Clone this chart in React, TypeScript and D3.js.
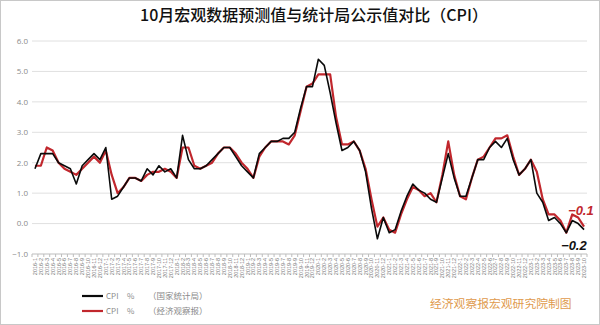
import React from "react";
import * as d3 from "d3";

const W = 600;
const H = 325;

const startMonth = new Date(2016, 0, 1);
const endMonth = new Date(2023, 10, 1);
const months: string[] = d3
  .timeMonth.range(startMonth, endMonth)
  .map((d) => `${d.getFullYear()}-${d.getMonth() + 1}`);

// 国家统计局 CPI 当月同比 (%)
const cpiNBS: number[] = [
  1.8, 2.3, 2.3, 2.3, 2.0, 1.9, 1.8, 1.3, 1.9, 2.1, 2.3, 2.1,
  2.5, 0.8, 0.9, 1.2, 1.5, 1.5, 1.4, 1.8, 1.6, 1.9, 1.7, 1.8,
  1.5, 2.9, 2.1, 1.8, 1.8, 1.9, 2.1, 2.3, 2.5, 2.5, 2.2, 1.9,
  1.7, 1.5, 2.3, 2.5, 2.7, 2.7, 2.8, 2.8, 3.0, 3.8, 4.5, 4.5,
  5.4, 5.2, 4.3, 3.3, 2.4, 2.5, 2.7, 2.4, 1.7, 0.5, -0.5, 0.2,
  -0.3, -0.2, 0.4, 0.9, 1.3, 1.1, 1.0, 0.8, 0.7, 1.5, 2.3, 1.5,
  0.9, 0.9, 1.5, 2.1, 2.1, 2.5, 2.7, 2.5, 2.8, 2.1, 1.6, 1.8,
  2.1, 1.0, 0.7, 0.1, 0.2, 0.0, -0.3, 0.1, 0.0, -0.2,
];

// 经济观察报 预测值 (%)
const cpiEEO: number[] = [
  1.9, 1.9, 2.5, 2.4, 2.0, 1.8, 1.7, 1.6, 1.8, 2.0, 2.2, 2.0,
  2.4, 1.6, 1.0, 1.2, 1.5, 1.5, 1.4, 1.6, 1.7, 1.7, 1.8, 1.7,
  1.5, 2.5, 2.5, 1.9, 1.8, 1.9, 2.0, 2.3, 2.5, 2.5, 2.3, 2.0,
  1.8, 1.5, 2.2, 2.5, 2.7, 2.7, 2.7, 2.6, 2.9, 3.7, 4.5, 4.6,
  4.9, 4.9, 4.9, 3.5, 2.6, 2.6, 2.7, 2.4, 1.8, 0.8, -0.1, 0.2,
  -0.2, -0.3, 0.3, 0.8, 1.2, 1.1, 0.9, 1.0, 0.7, 1.6, 2.7, 1.6,
  0.9, 0.8, 1.5, 2.1, 2.2, 2.5, 2.8, 2.8, 2.9, 2.2, 1.6, 1.8,
  2.1, 1.7, 0.8, 0.3, 0.3, 0.1, -0.3, 0.3, 0.2, -0.1,
];

const yTicks: number[] = [-1, 0, 1, 2, 3, 4, 5, 6];

const title = "10月宏观数据预测值与统计局公示值对比（CPI）";
const legendNames: string[] = ["（国家统计局）", "（经济观察报）"];
const credit = "经济观察报宏观研究院制图";

const RED = "#c1272d";
const BLACK = "#0a0a0a";
const CJK = "'Noto Sans CJK SC', 'Noto Sans', sans-serif";

export default function App() {
  const x = d3.scaleBand<string>().domain(months).range([32, 587]).padding(0);
  const bw = x.bandwidth();
  const cx = (i: number) => (x(months[i]) as number) + bw / 2;
  const y = d3.scaleLinear().domain([-1, 6]).range([254, 41]);

  const line = d3
    .line<number>()
    .x((_, i) => cx(i))
    .y((v) => y(v));

  const lastI = months.length - 1;

  return (
    <div style={{ position: "fixed", left: 0, top: 0, width: W, height: H, background: "#fff" }}>
      <svg width={W} height={H} style={{ display: "block" }}>
        <rect x={0.5} y={0.5} width={W - 1} height={H - 1} fill="#fff" stroke="#c8c8c8" />
        <text
          x={314}
          y={21}
          textAnchor="middle"
          fontFamily={CJK}
          fontSize={16}
          fontWeight={500}
          fill="#111"
        >
          {title}
        </text>

        {/* grid */}
        {yTicks.map((t) => (
          <g key={t}>
            <line
              x1={32}
              x2={587}
              y1={y(t)}
              y2={y(t)}
              stroke={t === -1 ? "#bdbdbd" : "#e0e0e0"}
              strokeWidth={1}
            />
            <text
              x={28}
              y={y(t)}
              dy="0.35em"
              textAnchor="end"
              fontFamily="'Open Sans', sans-serif"
              fontSize={8}
              fill="#8a8a8a"
            >
              {d3.format(".1f")(t)}
            </text>
          </g>
        ))}

        {/* x ticks */}
        {months.map((m) => (
          <line
            key={"t" + m}
            x1={(x(m) as number)}
            x2={(x(m) as number)}
            y1={254}
            y2={257}
            stroke="#bdbdbd"
          />
        ))}
        <line x1={587} x2={587} y1={254} y2={257} stroke="#bdbdbd" />

        {/* x labels */}
        {months.map((m, i) => (
          <text
            key={"l" + m}
            transform={`translate(${cx(i) + 2},${258}) rotate(-90)`}
            textAnchor="end"
            fontFamily="'Liberation Sans', sans-serif"
            fontSize={5.5}
            fill="#777"
          >
            {m}
          </text>
        ))}

        {/* series */}
        <path d={line(cpiEEO) as string} fill="none" stroke={RED} strokeWidth={2.2} strokeLinejoin="round" />
        <path d={line(cpiNBS) as string} fill="none" stroke={BLACK} strokeWidth={1.6} strokeLinejoin="round" />

        {/* end annotations */}
        <text
          x={cx(lastI) - 16}
          y={y(cpiEEO[lastI]) - 12}
          fontFamily="'Liberation Sans', Arial, sans-serif"
          fontSize={13}
          fontWeight="bold"
          fontStyle="italic"
          fill={RED}
        >
          {d3.format(".1f")(cpiEEO[lastI])}
        </text>
        <text
          x={cx(lastI) - 23}
          y={y(cpiNBS[lastI]) + 20}
          fontFamily="'Liberation Sans', Arial, sans-serif"
          fontSize={13}
          fontWeight="bold"
          fontStyle="italic"
          fill="#111"
        >
          {d3.format(".1f")(cpiNBS[lastI])}
        </text>

        {/* legend */}
        {[BLACK, RED].map((c, k) => (
          <g key={"lg" + k} transform={`translate(0,${296 + k * 15})`}>
            <line x1={82} x2={103} y1={0} y2={0} stroke={c} strokeWidth={2.2} />
            <text x={106} y={0} dy="0.35em" fontFamily={CJK} fontSize={8} fill="#8a8a8a">
              CPI
            </text>
            <text x={127} y={0} dy="0.35em" fontFamily={CJK} fontSize={8} fill="#8a8a8a">
              %
            </text>
            <text x={148} y={0} dy="0.35em" fontFamily={CJK} fontSize={8.5} fill="#8a8a8a">
              {legendNames[k]}
            </text>
          </g>
        ))}

        <text x={430} y={308} fontFamily={CJK} fontSize={11.8} fill="#e09a4c">
          {credit}
        </text>
      </svg>
    </div>
  );
}
